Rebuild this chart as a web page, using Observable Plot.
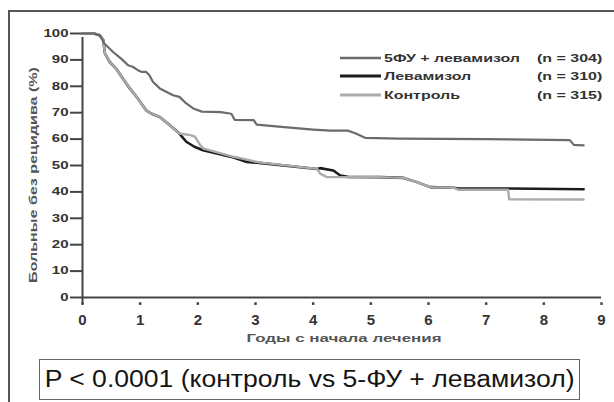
<!DOCTYPE html>
<html><head><meta charset="utf-8">
<script src="https://cdn.jsdelivr.net/npm/d3@7"></script>
<script src="https://cdn.jsdelivr.net/npm/@observablehq/plot@0.6"></script>
<style>
body{margin:0;background:#fff;font-family:"Liberation Sans",Arial,sans-serif;}
#wrap{position:relative;width:614px;height:402px;overflow:hidden;background:#fff;}
#frame{position:absolute;left:8px;top:10px;width:700px;height:500px;border-left:2px solid #555;border-top:2px solid #555;}
#chart{position:absolute;left:0;top:0;}
#pbox{position:absolute;left:39px;top:359px;width:541px;height:41px;border:1.5px solid #666;box-sizing:border-box;font-size:23px;line-height:38px;text-align:center;color:#151515;white-space:nowrap;}
#ptext{display:inline-block;transform-origin:50% 50%;}
</style></head>
<body><div id="wrap"><div id="frame"></div><div id="chart"></div><div id="pbox"><span id="ptext">P &lt; 0.0001 (контроль vs 5-ФУ + левамизол)</span></div></div>
<script>
// ---- data ----
const seriesNames = ["5ФУ + левамизол", "Левамизол", "Контроль"];
const seriesN = ["(n = 304)", "(n = 310)", "(n = 315)"];
const seriesColors = ["#6b6b6b", "#1c1c1c", "#ababab"];
const seriesWidths = [2.2, 2.6, 2.4];

const years5FU = [0, 0.2, 0.3, 0.38, 0.53, 0.67, 0.79, 0.87, 0.96, 1.02, 1.10, 1.16, 1.22, 1.34, 1.57, 1.68, 1.80, 1.92, 2.07, 2.40, 2.58, 2.64, 2.97, 3.02, 3.5, 4.0, 4.3, 4.6, 4.72, 4.9, 5.5, 7.0, 8.45, 8.52, 8.69];
const surv5FU  = [100, 100, 99.2, 96.2, 93, 90.5, 88, 87.4, 86.1, 85.5, 85.5, 84.2, 81.7, 79.2, 76.6, 76, 73.5, 71.6, 70.4, 70.2, 69.6, 67.3, 67.2, 65.5, 64.5, 63.6, 63.2, 63.2, 62.3, 60.5, 60.2, 60.0, 59.6, 57.8, 57.6];

const yearsLev = [0, 0.2, 0.3, 0.36, 0.39, 0.47, 0.58, 0.70, 0.82, 0.96, 1.10, 1.19, 1.34, 1.51, 1.68, 1.80, 1.94, 2.09, 2.62, 2.85, 3.06, 4.07, 4.12, 4.35, 4.47, 4.6, 5.16, 5.57, 5.80, 6.03, 6.44, 6.52, 7.4, 8.69];
const survLev  = [100, 100, 99.3, 97.5, 92.4, 89.3, 86.7, 83, 79.2, 75.4, 71, 69.7, 68.4, 65.3, 62.1, 59, 57.1, 55.8, 53.0, 51.3, 51.0, 48.7, 49.0, 48.1, 46.2, 45.7, 45.6, 45.3, 43.7, 41.8, 41.6, 41.3, 41.3, 41.0];

const yearsCtl = [0, 0.2, 0.3, 0.36, 0.39, 0.47, 0.58, 0.70, 0.82, 0.96, 1.10, 1.19, 1.34, 1.51, 1.68, 1.87, 1.95, 2.04, 2.10, 2.62, 2.85, 3.06, 4.07, 4.12, 4.24, 5.16, 5.57, 5.80, 6.03, 6.44, 6.52, 7.38, 7.40, 8.69];
const survCtl  = [100, 100, 99.3, 97.5, 92.4, 89.3, 86.7, 83, 79.2, 75.4, 71, 69.7, 68.4, 65.3, 62.1, 61.5, 60.9, 57.7, 56.4, 53.3, 52.2, 51.2, 48.7, 46.9, 45.6, 45.6, 45.3, 43.7, 41.8, 41.6, 40.8, 40.8, 37.2, 37.1];

const xTicks = [0, 1, 2, 3, 4, 5, 6, 7, 8, 9];
const yTicks = [0, 10, 20, 30, 40, 50, 60, 70, 80, 90, 100];
const xTitle = "Годы с начала лечения";
const yTitle = "Больные без рецидива (%)";

// ---- build ----
const toRows = (xs, ys) => xs.map((x, i) => ({x, y: ys[i]}));
const fu = toRows(years5FU, surv5FU);
const lev = toRows(yearsLev, survLev);
const ctl = toRows(yearsCtl, survCtl);

const FONT = '"Liberation Sans", Arial, sans-serif';
const plot = Plot.plot({
  width: 614, height: 350,
  marginLeft: 82, marginRight: 13, marginTop: 33, marginBottom: 53,
  x: {domain: [0, 9]},
  y: {domain: [0, 100]},
  style: {fontFamily: FONT, color: "#333", background: "transparent", overflow: "visible"},
  marks: [
    Plot.axisY(yTicks, {tickSize: 12, tickPadding: 2, stroke: "#444", strokeWidth: 2, fontSize: 10, fontWeight: "bold", label: null}),
    Plot.axisX(xTicks, {tickSize: 0, tickPadding: 17, fontSize: 15, fontWeight: "bold", label: null}),
    Plot.ruleX(xTicks, {x: d => d, y1: -2.0, y2: -3.0, stroke: "#444", strokeWidth: 2.5}),
    Plot.ruleY([0], {x1: 0, x2: 9, stroke: "#444", strokeWidth: 2}),
    Plot.ruleX([0], {y1: -2.5, y2: 98.5, stroke: "#444", strokeWidth: 2}),
    Plot.line(lev, {x: "x", y: "y", stroke: seriesColors[1], strokeWidth: seriesWidths[1]}),
    Plot.line(ctl, {x: "x", y: "y", stroke: seriesColors[2], strokeWidth: seriesWidths[2]}),
    Plot.line(fu, {x: "x", y: "y", stroke: seriesColors[0], strokeWidth: seriesWidths[0]})
  ]
});
document.getElementById("chart").appendChild(plot);

const svg = d3.select(plot);
const stretch = (sel, factor) => sel.each(function () {
  const len = this.getComputedTextLength();
  this.setAttribute("textLength", (len * factor).toFixed(1));
  this.setAttribute("lengthAdjust", "spacingAndGlyphs");
});
stretch(svg.selectAll('g[aria-label="y-axis tick label"] text'), 1.5);

// axis titles
svg.append("text").attr("x", 344).attr("y", 342).attr("text-anchor", "middle")
  .attr("font-size", 11).attr("font-weight", "bold").attr("fill", "#555").text(xTitle)
  .attr("textLength", 195).attr("lengthAdjust", "spacingAndGlyphs");
svg.append("text").attr("transform", "translate(37,175) rotate(-90)").attr("text-anchor", "middle")
  .attr("font-size", 11.5).attr("font-weight", "bold").attr("fill", "#555").text(yTitle)
  .attr("textLength", 216).attr("lengthAdjust", "spacingAndGlyphs");

// legend
const legY = [58, 76, 95];
const leg = svg.append("g").attr("font-size", 11).attr("font-weight", "bold").attr("fill", "#333").attr("text-anchor", "start");
seriesNames.forEach((name, i) => {
  leg.append("line").attr("x1", 340).attr("x2", 381).attr("y1", legY[i]).attr("y2", legY[i])
    .attr("stroke", seriesColors[i]).attr("stroke-width", seriesWidths[i] + 0.4);
  leg.append("text").attr("class", "lname").attr("x", 384).attr("y", legY[i]).attr("dy", "0.36em").text(name);
  leg.append("text").attr("class", "lnum").attr("x", 537).attr("y", legY[i]).attr("dy", "0.36em").text(seriesN[i]);
});
const first = leg.select("text.lname").node();
const legFactor = 136 / first.getComputedTextLength();
stretch(leg.selectAll("text"), legFactor);

// p-value box text width
const pt = document.getElementById("ptext");
const k = 530 / pt.getBoundingClientRect().width;
pt.style.transform = `scaleX(${k.toFixed(3)})`;
</script>
</body></html>
